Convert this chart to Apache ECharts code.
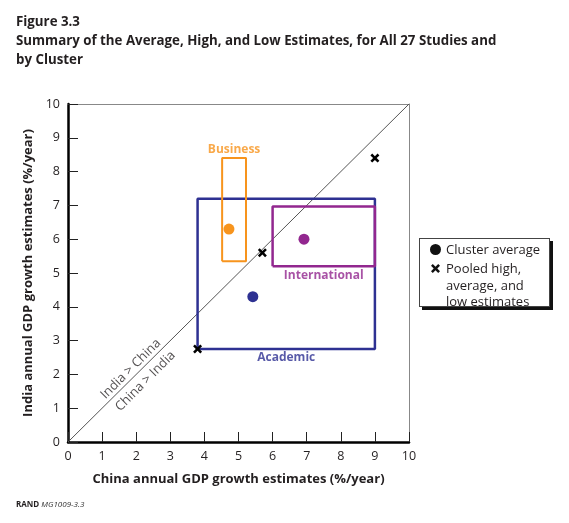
<!DOCTYPE html>
<html>
<head>
<meta charset="utf-8">
<script src="https://cdn.jsdelivr.net/npm/echarts@6/dist/echarts.min.js"></script>
<style>
html,body{margin:0;padding:0;background:#fff;}
#wrap{position:relative;width:569px;height:523px;}
#chart{position:absolute;left:0;top:0;width:569px;height:523px;}
#legend{position:absolute;left:419px;top:238px;width:129px;height:67px;border:1px solid #444;background:#fff;box-shadow:3px 3px 0 #111;font-family:"Open Sans";font-size:13px;color:#231F20;}
#legend .row{position:absolute;left:26px;line-height:16.5px;white-space:nowrap;}
#legend .dot{position:absolute;left:10px;top:4.5px;width:11px;height:11px;border-radius:50%;background:#111;}
#legend svg{position:absolute;left:11px;top:24.5px;}
#footer{position:absolute;left:16px;top:498px;font-family:"Open Sans";font-size:8px;color:#231F20;}
</style>
</head>
<body>
<div id="wrap">
<div id="chart"></div>
<div id="legend">
  <div class="dot"></div>
  <div class="row" style="top:2px;">Cluster average</div>
  <svg width="9" height="9" viewBox="0 0 10 10"><polygon points="2,0 5,3 8,0 10,2 7,5 10,8 8,10 5,7 2,10 0,8 3,5 0,2" fill="#111"/></svg>
  <div class="row" style="top:21px;">Pooled high,<br>average, and<br>low estimates</div>
</div>
<div id="footer"><b>RAND</b> <i style="color:#333">MG1009-3.3</i></div>
</div>
<script>
// ---- Data ----
var clusters = ['Academic', 'Business', 'International'];
var clusterColors = ['#2E3192', '#F7941D', '#92278F'];
var clusterAvgX = [5.42, 4.72, 6.92];
var clusterAvgY = [4.30, 6.30, 6.00];
var boxXLow  = [3.80, 4.52, 6.00];
var boxXHigh = [9.00, 5.22, 9.00];
var boxYLow  = [2.75, 5.35, 5.20];
var boxYHigh = [7.20, 8.40, 6.97];
var labelSide = ['bottom', 'top', 'bottom'];
var pooledX = [3.80, 5.70, 9.00];
var pooledY = [2.75, 5.60, 8.40];
var diagonal = [[0, 0], [10, 10]];
var diagLabels = ['India > China', 'China > India'];
var diagLabelPos = [[1.84, 2.16], [2.27, 1.80]];

var TXT = '#231F20', FONT = 'Open Sans';
var crossPath = 'path://M2,0 L5,3 L8,0 L10,2 L7,5 L10,8 L8,10 L5,7 L2,10 L0,8 L3,5 L0,2 Z';

var series = [{ type: 'line', data: diagonal, symbol: 'none', silent: true, z: 1, lineStyle: { color: '#555', width: 1 } }];
clusters.forEach(function (c, i) {
  var xl = boxXLow[i], xh = boxXHigh[i], yl = boxYLow[i], yh = boxYHigh[i];
  series.push({ type: 'line', name: c + ' box', symbol: 'none', z: 3,
    data: [[xl, yl], [xh, yl], [xh, yh], [xl, yh], [xl, yl]],
    lineStyle: { color: clusterColors[i], width: i === 1 ? 2 : 2.5 } });
  series.push({ type: 'scatter', name: c + ' label', symbolSize: 0, z: 5,
    data: [[(xl + xh) / 2, labelSide[i] === 'top' ? yh : yl]],
    label: { show: true, position: labelSide[i], distance: 3, formatter: c, color: clusterColors[i], fontFamily: FONT, fontSize: 12, fontWeight: 'bold' } });
});
clusters.forEach(function (c, i) {
  series.push({ type: 'scatter', name: c + ' average', symbol: 'circle', symbolSize: 11, z: 6,
    data: [[clusterAvgX[i], clusterAvgY[i]]], itemStyle: { color: clusterColors[i], opacity: 1 } });
});
series.push({ type: 'scatter', name: 'Pooled', symbol: crossPath, symbolSize: 9, z: 7,
  data: pooledX.map(function (x, i) { return [x, pooledY[i]]; }), itemStyle: { color: '#000', opacity: 1 } });
diagLabels.forEach(function (t, i) {
  series.push({ type: 'scatter', name: 'diag ' + i, symbolSize: 0, z: 5, data: [diagLabelPos[i]],
    label: { show: true, position: 'inside', rotate: 45, formatter: t, color: TXT, fontFamily: FONT, fontSize: 13 } });
});

function ax(name, pos) {
  return { type: 'value', min: 0, max: 10, interval: 1, position: pos,
    name: name, nameLocation: 'middle', nameGap: 31,
    nameTextStyle: { fontFamily: FONT, fontSize: 13, fontWeight: 'bold', color: TXT },
    axisLine: { show: true, onZero: false, lineStyle: { color: '#000', width: 2.5 } },
    axisTick: { show: true, inside: true, length: 10, lineStyle: { color: '#222', width: 1 } },
    axisLabel: { fontFamily: FONT, fontSize: 12.5, color: TXT },
    splitLine: { show: false } };
}
function bax(pos) {
  return { type: 'value', min: 0, max: 10, interval: 1, position: pos,
    axisLine: { show: true, onZero: false, lineStyle: { color: '#888', width: 1 } },
    axisTick: { show: false }, axisLabel: { show: false }, splitLine: { show: false } };
}

var chart = echarts.init(document.getElementById('chart'));
chart.setOption({
  backgroundColor: 'transparent', animation: false,
  title: { left: 11, top: 8,
    text: 'Figure 3.3\nSummary of the Average, High, and Low Estimates, for All 27 Studies and\nby Cluster',
    textStyle: { fontFamily: FONT, fontSize: 13.3, fontWeight: 'bold', color: TXT, lineHeight: 19 } },
  grid: { left: 68, top: 104, width: 341, height: 338 },
  xAxis: [ax('China annual GDP growth estimates (%/year)', 'bottom'), bax('top')],
  yAxis: [ax('India annual GDP growth estimates (%/year)', 'left'), bax('right')],
  series: series
});
</script>
</body>
</html>
